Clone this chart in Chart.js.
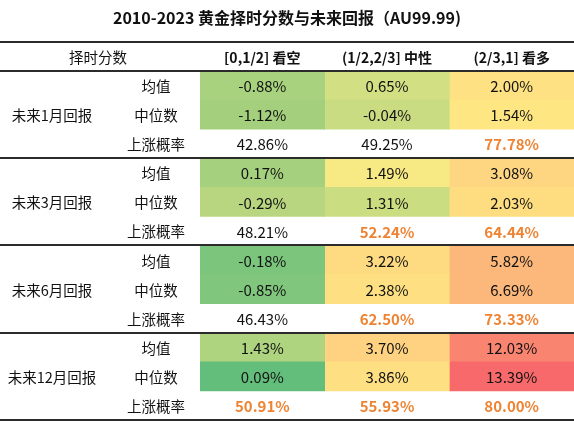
<!DOCTYPE html>
<html><head><meta charset="utf-8">
<script src="https://cdn.jsdelivr.net/npm/chart.js@4/dist/chart.umd.min.js"></script>
<style>html,body{margin:0;padding:0;background:#fff;} #wrap{width:574px;height:426px;}</style>
</head><body><div id="wrap"><canvas id="c" width="574" height="426"></canvas></div>
<script>
// ---- data ----
const titleText = '2010-2023 黄金择时分数与未来回报（AU99.99)';
const cornerLabel = '择时分数';
const columns = ['[0,1/2] 看空', '(1/2,2/3] 中性', '(2/3,1] 看多'];
const horizons = ['未来1月回报', '未来3月回报', '未来6月回报', '未来12月回报'];
const metrics = ['均值', '中位数', '上涨概率'];
// values (%) in row order: horizon x [均值, 中位数, 上涨概率]
const bearish = [-0.88, -1.12, 42.86,  0.17, -0.29, 48.21,  -0.18, -0.85, 46.43,  1.43, 0.09, 50.91];
const neutral = [ 0.65, -0.04, 49.25,  1.49,  1.31, 52.24,   3.22,  2.38, 62.50,  3.70, 3.86, 55.93];
const bullish = [ 2.00,  1.54, 77.78,  3.08,  2.03, 64.44,   5.82,  6.69, 73.33, 12.03, 13.39, 80.00];

// ---- styles ----
const FONT = "'Noto Sans CJK SC', 'Noto Sans', sans-serif";
const cellColors = [
  ['#a9d27f', '#a4d07e', null, '#a5d17e', '#b7d67f', null, '#7bc57c', '#80c67c', null, '#aed480', '#63be7b', null],
  ['#d2df82', '#c9dc81', null, '#f7e984', '#cbdd81', null, '#fedb81', '#fee082', null, '#fed280', '#fedf81', null],
  ['#fee182', '#fee783', null, '#fed580', '#fedd81', null, '#fcb87a', '#fcb77a', null, '#f98570', '#f8696b', null]
];
const series = [bearish, neutral, bullish];
const rowLabels = horizons.flatMap(h => metrics.map(m => m));

const tablePlugin = {
  id: 'tableText',
  afterDatasetsDraw(chart) {
    const { ctx, chartArea: a, scales: { y } } = chart;
    const rowH = a.height / rowLabels.length;
    ctx.save();
    ctx.textAlign = 'center';
    ctx.textBaseline = 'middle';
    // cell values
    series.forEach((vals, c) => {
      const meta = chart.getDatasetMeta(c);
      meta.data.forEach((el, r) => {
        const v = vals[r];
        const p = el.getCenterPoint();
        const isProb = r % 3 === 2;
        const hi = isProb && v > 50;
        ctx.font = (hi ? 'bold ' : '') + '15px ' + FONT;
        ctx.fillStyle = hi ? '#ee8433' : '#111';
        ctx.fillText(v.toFixed(2) + '%', p.x, p.y + 1);
      });
    });
    // header
    const headerY = a.top - rowH / 2;
    ctx.font = '14.5px ' + FONT;
    ctx.fillStyle = '#111';
    ctx.fillText(cornerLabel, 98, headerY + 1);
    ctx.font = 'bold 14px ' + FONT;
    columns.forEach((col, c) => {
      const p = chart.getDatasetMeta(c).data[0].getCenterPoint();
      ctx.fillText(col, p.x, headerY + 1);
    });
    // row labels
    ctx.font = '14.5px ' + FONT;
    rowLabels.forEach((lab, r) => {
      ctx.fillText(lab, 156, y.getPixelForValue(r) + 1);
    });
    horizons.forEach((h, g) => {
      ctx.fillText(h, 52, y.getPixelForValue(g * 3 + 1) + 1);
    });
    // rules
    ctx.strokeStyle = '#2b2b2b';
    ctx.lineWidth = 2;
    const ys = [a.top - rowH, a.top];
    horizons.forEach((h, g) => ys.push(y.getPixelForValue(g * 3 + 2) + rowH / 2));
    ys.forEach(yy => {
      ctx.beginPath();
      ctx.moveTo(0, Math.round(yy));
      ctx.lineTo(chart.width, Math.round(yy));
      ctx.stroke();
    });
    ctx.restore();
  }
};

new Chart(document.getElementById('c'), {
  type: 'bar',
  data: {
    labels: rowLabels,
    datasets: columns.map((name, c) => ({
      label: name,
      data: rowLabels.map(() => 1),
      backgroundColor: cellColors[c].map(col => col || 'rgba(0,0,0,0)'),
      borderWidth: 0,
      barPercentage: 1,
      categoryPercentage: 1
    }))
  },
  options: {
    indexAxis: 'y',
    responsive: false,
    animation: false,
    devicePixelRatio: 1,
    layout: { padding: { top: 0, right: 0, bottom: 6, left: 0 } },
    plugins: {
      legend: { display: false },
      tooltip: { enabled: false },
      title: {
        display: true,
        text: titleText,
        color: '#111',
        font: { family: FONT, size: 16, weight: 'bold', lineHeight: 1.2 },
        padding: { top: 8, bottom: 43.8 }
      }
    },
    scales: {
      x: { stacked: true, min: 0, max: 3, display: false },
      y: {
        stacked: true,
        ticks: { display: false },
        grid: { display: false },
        border: { display: false },
        afterFit(s) { s.width = 200; }
      }
    }
  },
  plugins: [tablePlugin]
});
</script>
</body></html>
